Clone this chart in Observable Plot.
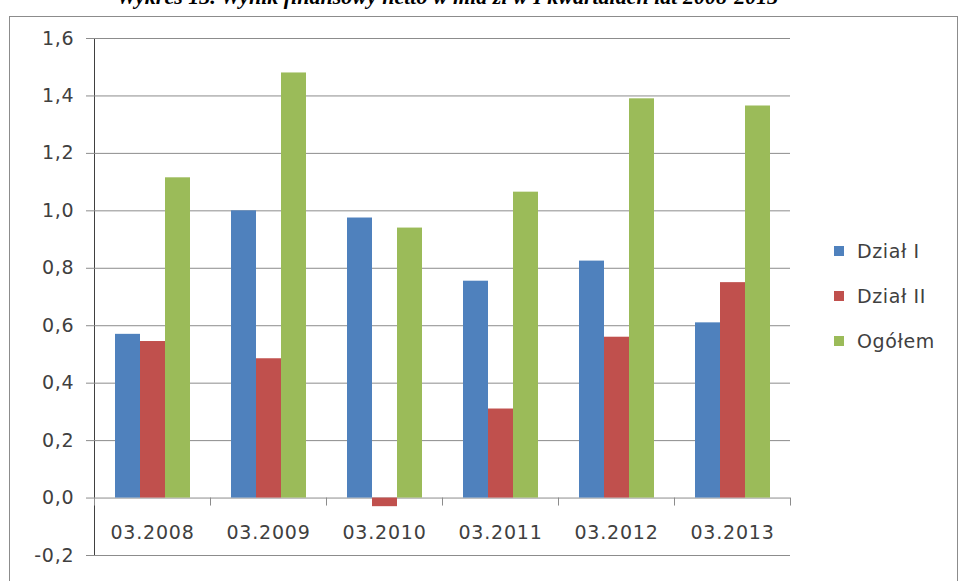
<!DOCTYPE html>
<html>
<head>
<meta charset="utf-8">
<script src="https://cdn.jsdelivr.net/npm/d3@7"></script>
<script src="https://cdn.jsdelivr.net/npm/@observablehq/plot@0.6"></script>
<style>
  html, body { margin: 0; padding: 0; background: #fff; }
  #wrap { position: relative; width: 961px; height: 581px; overflow: hidden; background: #fff; }
  #title { position: absolute; left: 0; width: 895px; top: -14px; text-align: center;
           font: italic bold 22px "Liberation Serif", "Times New Roman", serif; color: #000; line-height: 22px; white-space: nowrap; }
  #frame { position: absolute; left: 9px; top: 16px; width: 949px; height: 600px; border: 1px solid #8c8c8c; box-sizing: border-box; }
  #chart { position: absolute; left: 0; top: 0; }
  #legend { position: absolute; left: 834px; top: 0; font: 19px "DejaVu Sans", sans-serif; color: #404040; letter-spacing: 0.6px; }
  .item { position: absolute; left: 0; white-space: nowrap; display: flex; align-items: center; height: 24px; }
  .sw { width: 10px; height: 10px; margin-right: 13px; }
  svg text { letter-spacing: 0.8px; }
</style>
</head>
<body>
<div id="wrap">
  <div id="frame"></div>
  <div id="title"></div>
  <div id="chart"></div>
  <div id="legend"></div>
</div>
<script>
const titleText = "Wykres 13. Wynik finansowy netto w mld zł w I kwartałach lat 2008-2013";
const categories = ["03.2008", "03.2009", "03.2010", "03.2011", "03.2012", "03.2013"];
const series = ["Dział I", "Dział II", "Ogółem"];
const dzialI  = [0.57, 1.00, 0.975, 0.755, 0.825, 0.61];
const dzialII = [0.545, 0.485, -0.03, 0.31, 0.56, 0.75];
const ogolem  = [1.115, 1.48, 0.94, 1.065, 1.39, 1.365];
const yTicks = [-0.2, 0, 0.2, 0.4, 0.6, 0.8, 1.0, 1.2, 1.4, 1.6];
const colors = ["#4F81BD", "#C0504D", "#9BBB59"];

const seriesValues = [dzialI, dzialII, ogolem];
const data = [];
categories.forEach((c, i) => {
  series.forEach((s, j) => data.push({category: c, series: s, value: seriesValues[j][i]}));
});

const fmt = d => d.toFixed(1).replace(".", ",");

const chart = Plot.plot({
  width: 961,
  height: 581,
  marginLeft: 91,
  marginRight: 169,
  marginTop: 38,
  marginBottom: 26,
  style: {fontFamily: "DejaVu Sans, sans-serif", fontSize: "19px", color: "#404040", background: "transparent", overflow: "visible"},
  fx: {domain: categories, padding: 0, axis: null, label: null},
  x: {domain: series, paddingInner: 0, paddingOuter: 0.79, axis: null},
  y: {domain: [-0.2, 1.6], ticks: yTicks, tickFormat: fmt, tickSize: 8, tickPadding: 12, label: null, line: true},
  color: {domain: series, range: colors},
  marks: [
    Plot.ruleY(yTicks, {stroke: "#8c8c8c", strokeWidth: 1}),
    Plot.barY(data, {fx: "category", x: "series", y: "value", fill: "series"}),
    Plot.text(categories, {fx: d => d, y: () => 0, text: d => d, dy: 35, fill: "#404040"})
  ]
});
document.getElementById("chart").appendChild(chart);

// style y-axis ticks gray, labels dark
const svg = d3.select(chart);
svg.selectAll('[aria-label="y-axis tick"], [aria-label="y-axis"] line, [aria-label="y-axis"] path').attr("stroke", "#8c8c8c").style("color", "#8c8c8c");
svg.selectAll('[aria-label="y-axis tick"] path').attr("stroke", "#8c8c8c");

// category boundary ticks on the zero line, from the fx and y scales
const fx = chart.scale("fx");
const y = chart.scale("y");
const y0 = y.apply(0);
const bounds = categories.map(c => fx.apply(c)).concat([fx.apply(categories[categories.length - 1]) + fx.bandwidth]);
const g = svg.append("g").attr("stroke", "#8c8c8c");
bounds.forEach(b => g.append("line").attr("x1", b + 0.5).attr("x2", b + 0.5).attr("y1", y0).attr("y2", y0 + 8));

document.getElementById("title").textContent = titleText;

// legend
const leg = document.getElementById("legend");
const legendY = [251, 296, 341];
series.forEach((s, i) => {
  const it = document.createElement("div");
  it.className = "item";
  it.style.top = (legendY[i] - 12) + "px";
  const sw = document.createElement("div");
  sw.className = "sw";
  sw.style.background = colors[i];
  const t = document.createElement("span");
  t.textContent = s;
  it.appendChild(sw); it.appendChild(t);
  leg.appendChild(it);
});
</script>
</body>
</html>
